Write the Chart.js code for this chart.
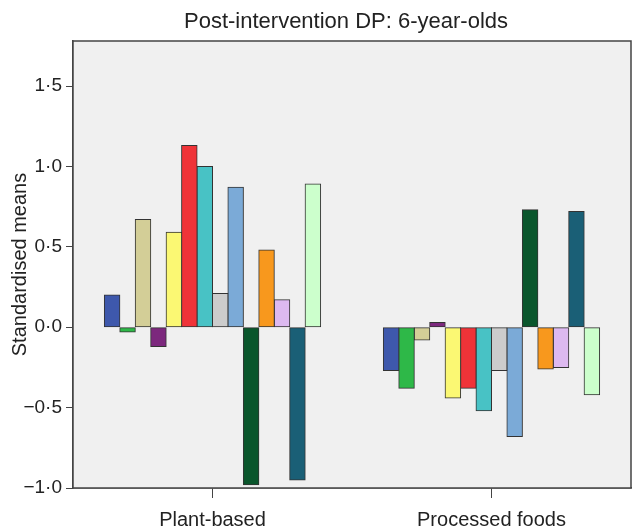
<!DOCTYPE html>
<html lang="en">

<head>
    <meta charset="UTF-8">
    <title>Post-intervention DP: 6-year-olds</title>
    <script src="https://cdn.jsdelivr.net/npm/chart.js"></script>
    <style>
        body { margin: 0; background: #ffffff; }
        #wrap { width: 633px; height: 529px; }
    </style>
</head>

<body>
    <div id="wrap">
        <canvas id="graficoDP" width="633" height="529"></canvas>
    </div>
</body>
<script>
    // dados
    var categorias = ['Plant-based', 'Processed foods']
    var grupos = ['Group 1', 'Group 2', 'Group 3', 'Group 4', 'Group 5', 'Group 6', 'Group 7',
        'Group 8', 'Group 9', 'Group 10', 'Group 11', 'Group 12', 'Group 13', 'Group 14']
    var plantBased = [0.20, -0.03, 0.67, -0.12, 0.59, 1.13, 1.00, 0.21, 0.87, -0.98, 0.48, 0.17, -0.95, 0.89]
    var processedFoods = [-0.27, -0.38, -0.08, 0.03, -0.44, -0.38, -0.52, -0.27, -0.68, 0.73, -0.26, -0.25, 0.72, -0.42]
    var yTicks = [-1.0, -0.5, 0.0, 0.5, 1.0, 1.5]

    var cores = ['#3E58AC', '#2EB848', '#D3CE97', '#7C287D', '#FBF873', '#EF3338', '#48C2C5',
        '#CCCCCC', '#7BAAD7', '#0A562C', '#F8981D', '#DDB9F0', '#1A5F76', '#CCFFCC']

    var fonte = '"Liberation Sans", Arial, sans-serif'

    var datasets = []
    for (var i = 0; i < grupos.length; i++) {
        datasets.push({
            label: grupos[i],
            data: [plantBased[i], processedFoods[i]],
            backgroundColor: cores[i],
            borderColor: '#333333',
            borderWidth: 1,
            borderSkipped: false,
            inflateAmount: 0.5,
            barPercentage: 1.0,
            categoryPercentage: 0.775
        })
    }

    // fundo cinza e moldura da área do gráfico
    const moldura = {
        id: 'moldura',
        beforeDatasetsDraw(chart) {
            const a = chart.chartArea
            const ctx = chart.ctx
            ctx.save()
            ctx.fillStyle = '#F0F0F0'
            ctx.fillRect(a.left, a.top, a.right - a.left, a.bottom - a.top)
            ctx.restore()
        },
        afterDraw(chart) {
            const a = chart.chartArea
            const ctx = chart.ctx
            ctx.save()
            ctx.strokeStyle = '#444444'
            ctx.lineWidth = 1.5
            ctx.strokeRect(a.left, a.top, a.right - a.left, a.bottom - a.top)
            // título
            ctx.fillStyle = '#222222'
            ctx.font = '22px ' + fonte
            ctx.textAlign = 'center'
            ctx.textBaseline = 'middle'
            ctx.fillText('Post-intervention DP: 6-year-olds', (a.left + a.right) / 2 - 6, 22)
            ctx.restore()
        }
    }

    const ctx = document.getElementById('graficoDP').getContext('2d')
    const grafico = new Chart(ctx, {
        type: 'bar',
        data: {
            labels: categorias,
            datasets: datasets
        },
        options: {
            responsive: false,
            animation: false,
            layout: { padding: { top: 41, right: 2, left: 0, bottom: 0 } },
            plugins: {
                legend: { display: false },
                tooltip: { enabled: false },
                title: { display: false }
            },
            scales: {
                x: {
                    grid: { display: true, offset: false, drawOnChartArea: false, drawTicks: true, tickLength: 10, color: '#444444' },
                    border: { display: true, color: '#444444', width: 1.5 },
                    ticks: { color: '#222222', font: { family: fonte, size: 20 }, padding: 10 },
                    afterFit: s => { s.height = 41 }
                },
                y: {
                    min: -1.0,
                    max: 1.78,
                    grid: { display: true, drawOnChartArea: false, drawTicks: true, tickLength: 7, color: '#444444' },
                    border: { display: true, color: '#444444', width: 1.5 },
                    afterBuildTicks: s => { s.ticks = yTicks.map(v => ({ value: v })) },
                    ticks: {
                        color: '#222222',
                        font: { family: fonte, size: 19 },
                        padding: 4,
                        callback: v => (v < 0 ? '\u2212' : '') + Math.abs(v).toFixed(1).replace('.', '\u00B7')
                    },
                    title: {
                        display: true,
                        text: 'Standardised means',
                        color: '#222222',
                        font: { family: fonte, size: 20 },
                        padding: { top: 8, bottom: 4 }
                    },
                    afterFit: s => { s.width = 73 }
                }
            }
        },
        plugins: [moldura]
    })
</script>

</html>
